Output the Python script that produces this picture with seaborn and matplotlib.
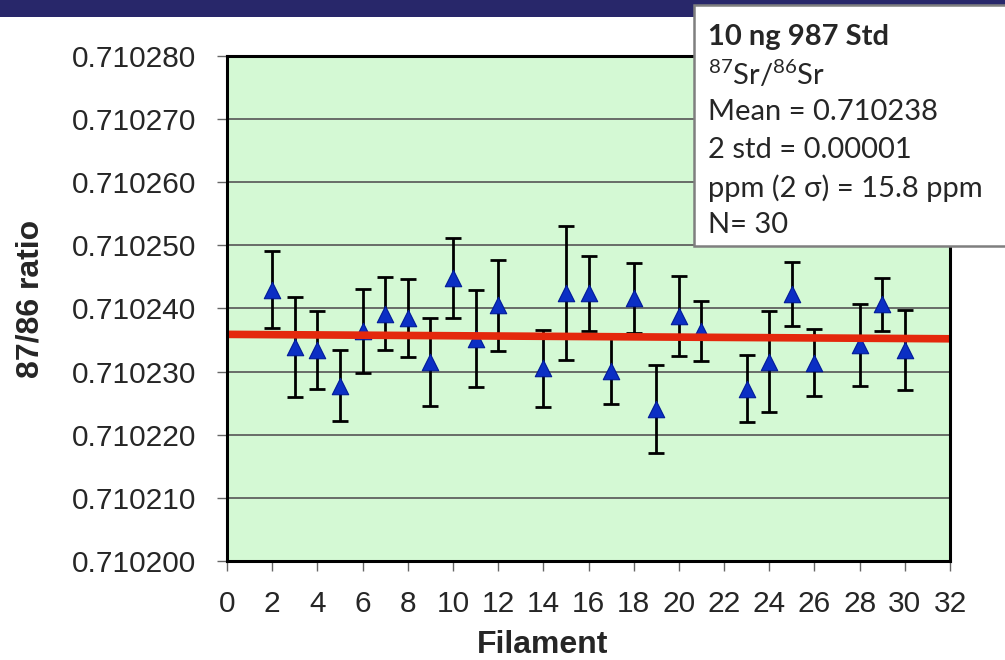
import numpy as np
import pandas as pd
import matplotlib
matplotlib.use('Agg')
import matplotlib.pyplot as plt
import seaborn as sns
from matplotlib.patches import Rectangle
from matplotlib.ticker import FormatStrFormatter

filament = [2, 3, 4, 5, 6, 7, 8, 9, 10, 11, 12, 14, 15, 16, 17, 18, 19, 20, 21,
            23, 24, 25, 26, 28, 29, 30]
ratio = [0.7102430, 0.7102339, 0.7102334, 0.7102278, 0.7102364, 0.7102392,
         0.7102385, 0.7102315, 0.7102448, 0.7102352, 0.7102405, 0.7102305,
         0.7102424, 0.7102424, 0.7102301, 0.7102416, 0.7102241, 0.7102388,
         0.7102365, 0.7102273, 0.7102316, 0.7102423, 0.7102314, 0.7102342,
         0.7102407, 0.7102334]
err = [6.05e-6, 7.9e-6, 6.2e-6, 5.65e-6, 6.65e-6, 5.8e-6, 6.2e-6, 6.95e-6,
       6.35e-6, 7.65e-6, 7.2e-6, 6.05e-6, 10.6e-6, 5.9e-6, 5.25e-6, 5.55e-6,
       7.0e-6, 6.4e-6, 4.75e-6, 5.3e-6, 8.05e-6, 5.1e-6, 5.3e-6, 6.5e-6,
       4.2e-6, 6.3e-6]

# linear trend line end points
trend_x = [0, 32]
trend_y = [0.7102359, 0.7102352]

y_ticks = np.arange(0.710200, 0.7102801, 0.00001)
x_ticks = np.arange(0, 33, 2)

box_lines = ['10 ng 987 Std', r'$^{87}$Sr/$^{86}$Sr', 'Mean = 0.710238',
             '2 std = 0.00001', 'ppm (2 σ) = 15.8 ppm', 'N= 30']

df = pd.DataFrame({'Filament': filament, 'ratio': ratio, 'err': err})
trend = pd.DataFrame({'Filament': trend_x, 'ratio': trend_y})

sns.set_theme(style='ticks')
plt.rcParams['font.family'] = ['Liberation Sans', 'DejaVu Sans']
plt.rcParams['mathtext.fontset'] = 'custom'
plt.rcParams['mathtext.rm'] = 'Lato'
plt.rcParams['mathtext.default'] = 'regular'

fig = plt.figure(figsize=(10.05, 6.6), dpi=100)
ax = fig.add_axes([0.2259, 0.15, 0.7194, 0.7652])
ax.set_facecolor('#d4f9d4')

ax.errorbar(df['Filament'], df['ratio'], yerr=df['err'], fmt='none',
            ecolor='black', elinewidth=2, capsize=5.5, capthick=2, zorder=3)
sns.scatterplot(data=df, x='Filament', y='ratio', marker='^', s=140,
                color='#0b2fc4', edgecolor='#001a99', linewidth=0.8,
                zorder=4, ax=ax)
sns.lineplot(data=trend, x='Filament', y='ratio', color='#e4280c',
             linewidth=5.5, zorder=5, ax=ax)

ax.set_xlim(0, 32)
ax.set_ylim(0.710200, 0.710280)
ax.set_xticks(x_ticks)
ax.set_yticks(y_ticks)
ax.yaxis.set_major_formatter(FormatStrFormatter('%.6f'))
ax.grid(axis='y', color='#555555', linewidth=1.2)
ax.set_axisbelow(True)
ax.tick_params(axis='both', direction='out', length=7, width=1,
               color='#666666', labelsize=21.5)
ax.tick_params(axis='x', pad=14)
ax.tick_params(axis='y', pad=15)
for s in ax.spines.values():
    s.set_linewidth(2.2)
    s.set_color('black')
    s.set_zorder(6)
ax.set_xlabel('')
ax.set_ylabel('')

fig.text(0.540, 0.022, 'Filament', fontsize=23, fontweight='bold',
         ha='center', va='center')
fig.text(0.030, 0.547, '87/86 ratio', fontsize=23, fontweight='bold',
         ha='center', va='center', rotation=90)

# dark title bar at top
fig.add_artist(Rectangle((0, 1 - 17 / 660), 1, 17 / 660,
                         transform=fig.transFigure, facecolor='#28276a',
                         edgecolor='none', zorder=8))
# stats box
fig.add_artist(Rectangle((694 / 1005, 1 - 246 / 660), 0.4, 241 / 660,
                         transform=fig.transFigure, facecolor='white',
                         edgecolor='#7f7f7f', linewidth=1.8, zorder=9))
baselines = [45, 85, 120, 158, 197, 233]
for i, (line, yb) in enumerate(zip(box_lines, baselines)):
    fig.text(708 / 1005, 1 - yb / 660, line, fontsize=21,
             fontweight='bold' if i == 0 else 'normal',
             family=['Lato', 'DejaVu Sans'], ha='left', va='baseline',
             zorder=10)

fig.savefig('out.png', dpi=100)
